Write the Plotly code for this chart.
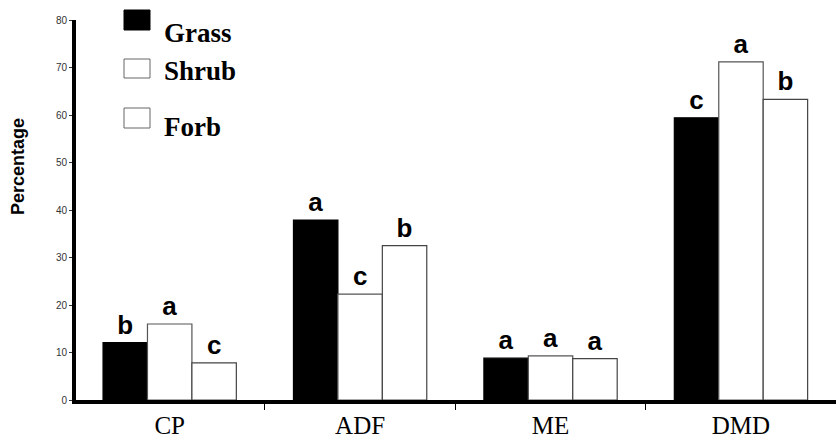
import plotly.graph_objects as go

# Nutritive value of forage classes (percent of dry matter)
nutrients = ["CP", "ADF", "ME", "DMD"]
grass = [12.1, 37.9, 8.8, 59.4]
shrub = [16.0, 22.3, 9.3, 71.2]
forb = [7.8, 32.5, 8.7, 63.3]

# Mean-separation letters shown above each bar
grass_letters = ["b", "a", "a", "c"]
shrub_letters = ["a", "c", "a", "a"]
forb_letters = ["c", "b", "a", "b"]

series = [
    ("Grass", grass, grass_letters, "black", "black"),
    ("Shrub", shrub, shrub_letters, "white", "#555555"),
    ("Forb", forb, forb_letters, "white", "#444444"),
]

fig = go.Figure()
for name, vals, letters, fill, edge in series:
    fig.add_trace(go.Bar(
        name=name,
        x=nutrients,
        y=vals,
        text=letters,
        texttemplate="<b>%{text}</b>",
        textposition="outside",
        textfont=dict(family="Liberation Sans, Arial", size=26, color="black"),
        marker=dict(color=fill, line=dict(color=edge, width=1.2)),
        cliponaxis=False,
    ))

# Hand-drawn key in the upper left corner
key = [
    ("Grass", "black", "black", 10, 30, 33),
    ("Shrub", "white", "#666666", 59, 78, 71),
    ("Forb", "white", "#666666", 108, 128, 127),
]
H = 438
for label, fill, edge, y0, y1, ytxt in key:
    fig.add_shape(
        type="rect", xref="paper", yref="paper",
        x0=(124 - 76) / 760, x1=(150 - 76) / 760,
        y0=(H - 38 - y1) / 380, y1=(H - 38 - y0) / 380,
        fillcolor=fill, line=dict(color=edge, width=1),
    )
    fig.add_annotation(
        text=f"<b>{label}</b>", xref="paper", yref="paper",
        x=(162 - 76) / 760, y=(H - 38 - ytxt) / 380,
        xanchor="left", yanchor="middle", showarrow=False,
        font=dict(family="Liberation Serif, Times New Roman", size=27, color="black"),
    )

# Y-axis title
fig.add_annotation(
    text="<b>Percentage</b>", xref="paper", yref="paper",
    x=-(76 - 18) / 760, y=(H - 38 - 167) / 380,
    xanchor="center", yanchor="middle", textangle=-90, showarrow=False,
    font=dict(family="Liberation Sans, Arial", size=18, color="black"),
)

fig.update_layout(
    width=836, height=438,
    margin=dict(l=76, r=0, t=20, b=38),
    paper_bgcolor="white", plot_bgcolor="white",
    barmode="group", bargap=0.30, bargroupgap=0,
    showlegend=False,
)
fig.update_xaxes(
    type="category", range=[-0.492, 3.499],
    tickson="boundaries", ticks="outside", ticklen=6, tickwidth=1, tickcolor="black",
    showline=True, linecolor="black", linewidth=4,
    showgrid=False, zeroline=False,
    tickfont=dict(family="Liberation Serif, Times New Roman", size=25, color="black"),
)
fig.update_yaxes(
    range=[0, 80], tickvals=[0, 10, 20, 30, 40, 50, 60, 70, 80],
    ticks="outside", ticklen=3, tickwidth=1, tickcolor="#333333",
    showline=True, linecolor="black", linewidth=4,
    showgrid=False, zeroline=False,
    tickfont=dict(family="Liberation Sans, Arial", size=10, color="#333333"),
)

fig.write_html("out.html")
